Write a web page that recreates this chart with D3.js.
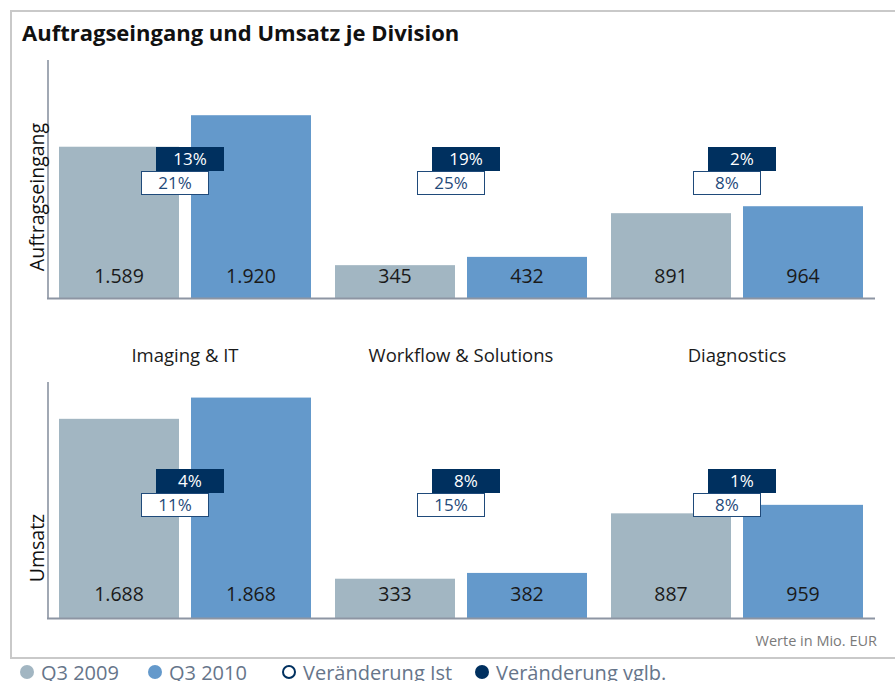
<!DOCTYPE html>
<html><head><meta charset="utf-8">
<script src="https://cdn.jsdelivr.net/npm/d3@7"></script>
<style>
html,body{margin:0;padding:0;background:#fff;}
svg{display:block;font-family:"Open Sans",sans-serif;}
</style></head>
<body>
<svg id="chart" width="895" height="681"></svg>
<script>
// ---- data ----
const divisions = ["Imaging & IT", "Workflow & Solutions", "Diagnostics"];
const periods = ["Q3 2009", "Q3 2010"];
const auftrag2009 = [1589, 345, 891];
const auftrag2010 = [1920, 432, 964];
const auftragIst = ["21%", "25%", "8%"];
const auftragVglb = ["13%", "19%", "2%"];
const umsatz2009 = [1688, 333, 887];
const umsatz2010 = [1868, 382, 959];
const umsatzIst = ["11%", "15%", "8%"];
const umsatzVglb = ["4%", "8%", "1%"];
const legendLabels = ["Q3 2009", "Q3 2010", "Veränderung Ist", "Veränderung vglb."];

const col09 = "#a2b6c2", col10 = "#6499cb", navy = "#00305f";
const fmt = d3.formatLocale({decimal: ",", thousands: ".", grouping: [3], currency: ["", " €"]}).format(",d");

const svg = d3.select("#chart");

// outer frame
svg.append("rect").attr("x", 11).attr("y", 11).attr("width", 900).attr("height", 647)
  .attr("fill", "none").attr("stroke", "#c9c9c9").attr("stroke-width", 2);

svg.append("text").attr("x", 22).attr("y", 41).attr("font-size", 22).attr("font-weight", "bold")
  .attr("fill", "#111").text("Auftragseingang und Umsatz je Division");

const x = d3.scaleBand().domain(divisions).range([47, 875]).paddingInner(0.087).paddingOuter(0.0435);
const xi = d3.scaleBand().domain(periods).range([0, x.bandwidth()]).paddingInner(0.0909);

function panel(cfg) {
  const y = d3.scaleLinear().domain([0, cfg.max]).range([cfg.bottom, cfg.top]);
  const g = svg.append("g");
  const rows = divisions.map((d, i) => ({div: d, v: [cfg.a[i], cfg.b[i]], ist: cfg.ist[i], vglb: cfg.vglb[i]}));

  // bars
  const grp = g.selectAll("g.grp").data(rows).join("g").attr("transform", d => `translate(${x(d.div)},0)`);
  grp.selectAll("rect").data(d => d.v.map((v, j) => ({p: periods[j], v}))).join("rect")
    .attr("x", d => xi(d.p)).attr("width", xi.bandwidth())
    .attr("y", d => y(d.v)).attr("height", d => y(0) - y(d.v))
    .attr("fill", d => d.p === periods[0] ? col09 : col10);
  grp.selectAll("text.val").data(d => d.v.map((v, j) => ({p: periods[j], v}))).join("text")
    .attr("class", "val").attr("x", d => xi(d.p) + xi.bandwidth() / 2).attr("y", y(0) - cfg.labelOff)
    .attr("text-anchor", "middle").attr("font-size", 19.5).attr("fill", "#1a1a1a").text(d => fmt(d.v));

  // axes
  g.append("line").attr("x1", 48).attr("x2", 48).attr("y1", cfg.top).attr("y2", cfg.bottom)
    .attr("stroke", "#6f7a8c").attr("stroke-width", 1.3);
  g.append("line").attr("x1", 47).attr("x2", 875).attr("y1", cfg.bottom + 0.5).attr("y2", cfg.bottom + 0.5)
    .attr("stroke", "#8d95a3").attr("stroke-width", 2);

  // change boxes
  const bw = 68, bh = 24;
  const by = cfg.top + 87;
  grp.each(function(d) {
    const c = x.bandwidth() / 2;
    const s = d3.select(this);
    s.append("rect").attr("x", c + 5 - bw / 2).attr("y", by).attr("width", bw).attr("height", bh).attr("fill", navy);
    s.append("text").attr("x", c + 5).attr("y", by + 18).attr("text-anchor", "middle").attr("font-size", 17)
      .attr("fill", "#fff").text(d.vglb);
    s.append("rect").attr("x", c - 10 - bw / 2 + 0.5).attr("y", by + bh + 0.5).attr("width", bw - 1).attr("height", bh - 1)
      .attr("fill", "#fff").attr("stroke", "#1f4a7a").attr("stroke-width", 1);
    s.append("text").attr("x", c - 10).attr("y", by + bh + 18).attr("text-anchor", "middle").attr("font-size", 17)
      .attr("fill", "#1f4a7a").text(d.ist);
  });

  // y label
  svg.append("text").attr("transform", `translate(44,${cfg.labelY}) rotate(-90)`)
    .attr("text-anchor", "middle").attr("font-size", 19.5).attr("fill", "#111").text(cfg.title);
}

panel({a: auftrag2009, b: auftrag2010, ist: auftragIst, vglb: auftragVglb, max: 2500, top: 60, bottom: 298, labelOff: 15, labelY: 197, title: "Auftragseingang"});
panel({a: umsatz2009, b: umsatz2010, ist: umsatzIst, vglb: umsatzVglb, max: 2000, top: 382, bottom: 618, labelOff: 17, labelY: 548, title: "Umsatz"});

// category labels
svg.selectAll("text.cat").data(divisions).join("text").attr("class", "cat")
  .attr("x", d => x(d) + x.bandwidth() / 2).attr("y", 362).attr("text-anchor", "middle")
  .attr("font-size", 18.5).attr("fill", "#1a1a1a").text(d => d);

svg.append("text").attr("x", 877).attr("y", 646).attr("text-anchor", "end").attr("font-size", 14.5)
  .attr("fill", "#7a7a7a").text("Werte in Mio. EUR");

// legend
const legX = [27, 155, 289, 482];
const lg = svg.selectAll("g.leg").data(legendLabels).join("g").attr("class", "leg")
  .attr("transform", (d, i) => `translate(${legX[i]},672)`);
lg.append("circle").attr("r", (d, i) => i === 2 ? 6 : 7)
  .attr("fill", (d, i) => [col09, col10, "#fff", navy][i])
  .attr("stroke", (d, i) => i === 2 ? navy : "none").attr("stroke-width", 2);
lg.append("text").attr("x", 14).attr("y", 8).attr("font-size", 20).attr("fill", "#66758a").text(d => d);
</script>
</body></html>
